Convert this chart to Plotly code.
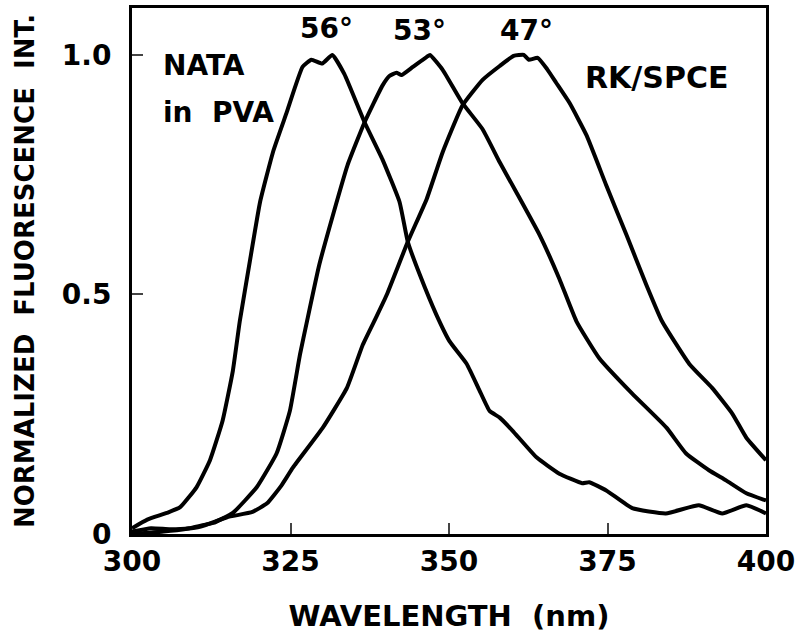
import plotly.graph_objects as go

# NATA in PVA, emission spectra at three angles
wl_56 = [300, 302.4, 305.5, 307.6, 310.2, 312.3, 314.3, 315.9, 317, 318.6, 320.2, 322.3, 324.4,
         326.9, 328.3, 330.0, 331.6, 333.5, 336.7, 339.5, 342.2, 343.5, 345.4, 348, 350.1, 352.8,
         354.8, 356.4, 358, 360, 363.8, 367.4, 371, 372.1, 374.8, 378.9, 384.2, 389.4, 393.1,
         396.9, 400]
int_56 = [0.012, 0.03, 0.044, 0.056, 0.098, 0.154, 0.237, 0.34, 0.444, 0.57, 0.693, 0.80, 0.88,
          0.975, 0.99, 0.982, 1.0, 0.96, 0.859, 0.782, 0.693, 0.61, 0.541, 0.458, 0.402, 0.355,
          0.30, 0.257, 0.243, 0.216, 0.16, 0.126, 0.106, 0.108, 0.091, 0.054, 0.043, 0.06, 0.043,
          0.06, 0.043]

wl_53 = [300, 303, 306, 309, 311, 312.8, 315.9, 319.7, 322.8, 324.9, 326.5, 327.6, 329.5, 331.7,
         334, 336.7, 339.5, 340.6, 341.7, 342.5, 344.3, 346.5, 347, 349, 352.1, 355.3, 358, 360.6,
         364.3, 367.4, 370.1, 373.7, 378.9, 384.3, 387.4, 391, 393.7, 396.9, 400]
int_53 = [0.005, 0.012, 0.01, 0.012, 0.018, 0.023, 0.044, 0.098, 0.168, 0.257, 0.375, 0.444, 0.56,
          0.666, 0.77, 0.86, 0.936, 0.956, 0.963, 0.958, 0.975, 0.996, 1.0, 0.969, 0.90, 0.845,
          0.776, 0.714, 0.624, 0.533, 0.444, 0.367, 0.293, 0.222, 0.168, 0.133, 0.112, 0.085, 0.07]

wl_47 = [300, 305, 310.7, 315, 319, 321.3, 323.5, 325.4, 330.1, 333.9, 336.4, 338.6, 340.2, 343.5,
         346.5, 349, 352.1, 355.3, 358, 360.2, 361.8, 362.6, 364, 365.5, 366.9, 369, 371.7, 374.8,
         378, 381.1, 383.6, 387.9, 391.5, 394.7, 396.9, 400]
int_47 = [0.0, 0.005, 0.015, 0.035, 0.046, 0.064, 0.10, 0.139, 0.222, 0.305, 0.395, 0.455, 0.50,
          0.61, 0.70, 0.797, 0.894, 0.948, 0.977, 0.998, 1.0, 0.99, 0.994, 0.97, 0.942, 0.90,
          0.832, 0.728, 0.624, 0.521, 0.444, 0.355, 0.305, 0.251, 0.201, 0.154]

angle_labels = ["56°", "53°", "47°"]
angle_x = [330.7, 345.4, 362.2]
angle_y = [1.055, 1.05, 1.05]

x_ticks = [300, 325, 350, 375, 400]
x_ticktext = ["300", "325", "350", "375", "400"]
y_ticks = [0, 0.5, 1.0]
y_ticktext = ["0", "0.5", "1.0"]

FONT = "DejaVu Sans, sans-serif"

fig = go.Figure()
for wl, iv in [(wl_56, int_56), (wl_53, int_53), (wl_47, int_47)]:
    fig.add_trace(go.Scatter(x=wl, y=iv, mode="lines",
                             line=dict(color="black", width=4, shape="spline", smoothing=0.4),
                             showlegend=False, hoverinfo="skip"))

for t, x, y in zip(angle_labels, angle_x, angle_y):
    fig.add_annotation(x=x, y=y, text=f"<b>{t}</b>", showarrow=False,
                       font=dict(size=28, family=FONT, color="black"))

fig.add_annotation(x=304.6, y=0.977, text="<b>NATA</b>", showarrow=False, xanchor="left",
                   font=dict(size=28, family=FONT, color="black"))
fig.add_annotation(x=304.6, y=0.88, text="<b>in  PVA</b>", showarrow=False, xanchor="left",
                   font=dict(size=28, family=FONT, color="black"))
fig.add_annotation(x=382.7, y=0.952, text="<b>RK/SPCE</b>", showarrow=False,
                   font=dict(size=30, family=FONT, color="black"))

fig.update_layout(
    width=800, height=640,
    margin=dict(l=132, r=33, t=5, b=106),
    plot_bgcolor="white", paper_bgcolor="white",
    font=dict(family=FONT, color="black", size=28),
    xaxis=dict(range=[300, 400], tickvals=x_ticks,
               ticktext=[f"<b>{t}</b>" for t in x_ticktext],
               ticks="inside", ticklen=11, tickwidth=2,
               showline=True, linewidth=3, linecolor="black", mirror=True, showgrid=False,
               zeroline=False, ticklabelstandoff=0, tickfont=dict(size=28, family=FONT),
               title=dict(text="<b>WAVELENGTH  (nm)</b>", standoff=30,
                          font=dict(size=29, family=FONT))),
    yaxis=dict(range=[0, 1.098], tickvals=y_ticks,
               ticktext=[f"<b>{t}</b>" for t in y_ticktext], ticks="inside",
               ticklen=11, tickwidth=2, showline=True, linewidth=3, linecolor="black",
               mirror=True, showgrid=False, zeroline=False, ticklabelstandoff=12,
               tickfont=dict(size=28, family=FONT),
               title=dict(text="<b>NORMALIZED  FLUORESCENCE  INT.</b>", standoff=20,
                          font=dict(size=26, family=FONT))),
)

fig.write_html("out.html", config={"displayModeBar": False},
               post_script="document.body.style.margin='0px';")
